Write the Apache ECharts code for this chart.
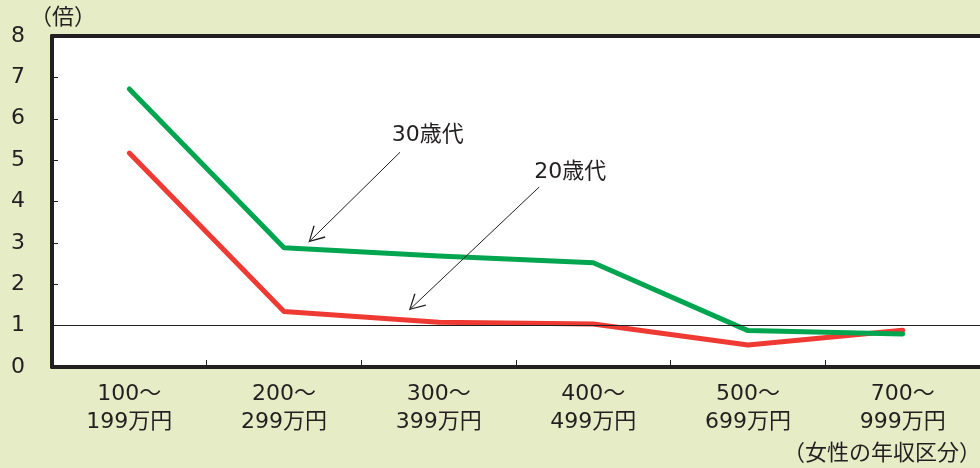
<!DOCTYPE html>
<html><head><meta charset="utf-8">
<script src="https://cdn.jsdelivr.net/npm/echarts@6/dist/echarts.min.js"></script>
<style>html,body{margin:0;padding:0;background:#e6edc6;}#c{width:980px;height:468px;}</style>
</head><body><div id="c"></div>
<script>
var categories = ['100～\n199万円','200～\n299万円','300～\n399万円','400～\n499万円','500～\n699万円','700～\n999万円'];
var age30 = [6.72, 2.88, 2.68, 2.52, 0.88, 0.80];
var age20 = [5.17, 1.34, 1.08, 1.04, 0.53, 0.89];
var yTicks = [0,1,2,3,4,5,6,7,8];
// annotation positions in data space (x: category index, y: value)
var annoLabels = [[1.93, 5.60, '30歳代'], [2.85, 4.71, '20歳代']];
var annoArrows = [[[1.75, 5.19], [1.16, 3.02]], [[2.65, 4.35], [1.81, 1.38]]];

var FONT = '"DejaVu Sans", "Noto Sans CJK JP", sans-serif';
var TXT = '#231f20';
var AX = '#231f20';
var chart = echarts.init(document.getElementById('c'));
chart.setOption({
  backgroundColor: '#e6edc6',
  animation: false,
  grid: {left: 52, top: 36, right: -4, bottom: 101, show: true, backgroundColor: '#ffffff', borderWidth: 0},
  xAxis: [{
    type: 'category', data: categories, boundaryGap: true,
    axisLine: {show: true, onZero: false, lineStyle: {color: AX, width: 4}},
    axisTick: {show: true, inside: true, length: 7, lineStyle: {color: AX, width: 1}},
    axisLabel: {color: TXT, fontSize: 22, fontFamily: FONT, margin: 13, lineHeight: 28, interval: 0},
    splitLine: {show: false}
  }, {
    type: 'value', min: -0.5, max: 5.5, position: 'top',
    axisLine: {show: true, onZero: false, lineStyle: {color: AX, width: 4}},
    axisTick: {show: false}, axisLabel: {show: false}, splitLine: {show: false}
  }],
  yAxis: {
    type: 'value', min: 0, max: 8, interval: 1,
    axisLine: {show: true, onZero: false, lineStyle: {color: AX, width: 4}},
    axisTick: {show: true, inside: true, length: 6, lineStyle: {color: AX, width: 1}},
    axisLabel: {color: TXT, fontSize: 22, fontFamily: FONT, margin: 27, formatter: function(v){return yTicks.indexOf(v) >= 0 ? String(v) : '';}},
    splitLine: {show: false}
  },
  series: [{
    type: 'line', data: age20, symbol: 'none', z: 3,
    lineStyle: {color: '#ee3a33', width: 5, cap: 'round', join: 'round'},
    markLine: {silent: true, symbol: 'none', label: {show: false},
      lineStyle: {color: AX, width: 1, type: 'solid'}, data: [{yAxis: 1}]}
  }, {
    type: 'line', data: age30, symbol: 'none', z: 4,
    lineStyle: {color: '#00a550', width: 5, cap: 'round', join: 'round'}
  }, {
    type: 'scatter', xAxisIndex: 1, symbolSize: 0, z: 5,
    itemStyle: {opacity: 1},
    data: annoLabels,
    label: {show: true, position: 'inside', color: TXT, fontSize: 22, fontFamily: FONT,
      formatter: function(p){return p.data[2];}},
    markLine: {silent: true,
      symbol: ['none', 'path://M0,-13 L0.01,-13 L0,-12.99 Z M0,0 L7,13 L6,13.5 L0,2 L-6,13.5 L-7,13 Z'],
      symbolSize: [17, 31],
      label: {show: false}, lineStyle: {color: AX, width: 1, type: 'solid', opacity: 1},
      data: annoArrows.map(function(a){return [{coord: a[0]}, {coord: a[1]}];})}
  }],
  graphic: [
    {type: 'text', left: 30, top: 5, style: {text: '（倍）', fill: TXT, font: '22px "Noto Sans CJK JP"'}},
    {type: 'text', left: 783, top: 441, style: {text: '（女性の年収区分）', fill: TXT, font: '22px "Noto Sans CJK JP"'}}
  ]
});
</script></body></html>
